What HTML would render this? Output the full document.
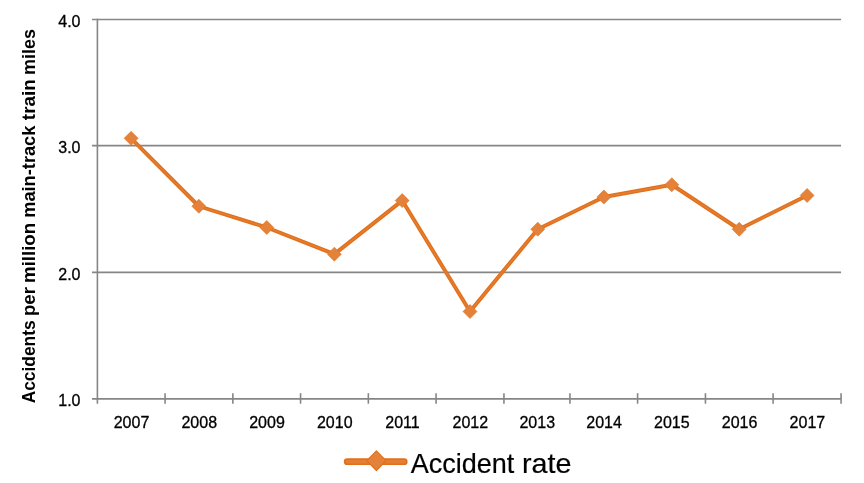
<!DOCTYPE html>
<html><head><meta charset="utf-8"><style>
html,body{margin:0;padding:0;background:#fff;}
body{width:864px;height:483px;overflow:hidden;}
svg{display:block;will-change:transform;}
text{font-family:"Liberation Sans",sans-serif;}
.t{font-size:16px;fill:#000;stroke:#000;stroke-width:0.3px;}
.ax{font-size:19.0px;font-weight:bold;fill:#000;}
.lg{font-size:27px;fill:#000;stroke:#000;stroke-width:0.2px;}
</style></head><body>
<svg width="864" height="483" viewBox="0 0 864 483">
<line x1="92" y1="19.45" x2="841.06" y2="19.45" stroke="#868686" stroke-width="1.6"/>
<line x1="92" y1="145.6" x2="841.06" y2="145.6" stroke="#868686" stroke-width="1.6"/>
<line x1="92" y1="272.35" x2="841.06" y2="272.35" stroke="#868686" stroke-width="1.6"/>
<line x1="92" y1="398.85" x2="841.06" y2="398.85" stroke="#868686" stroke-width="1.6"/>
<line x1="97.4" y1="18.65" x2="97.4" y2="403.7" stroke="#868686" stroke-width="1.6"/>
<line x1="165.06" y1="393.2" x2="165.06" y2="403.7" stroke="#868686" stroke-width="1.6"/>
<line x1="232.85" y1="393.2" x2="232.85" y2="403.7" stroke="#868686" stroke-width="1.6"/>
<line x1="300.56" y1="393.2" x2="300.56" y2="403.7" stroke="#868686" stroke-width="1.6"/>
<line x1="368.35" y1="393.2" x2="368.35" y2="403.7" stroke="#868686" stroke-width="1.6"/>
<line x1="436.06" y1="393.2" x2="436.06" y2="403.7" stroke="#868686" stroke-width="1.6"/>
<line x1="503.94" y1="393.2" x2="503.94" y2="403.7" stroke="#868686" stroke-width="1.6"/>
<line x1="569.95" y1="393.2" x2="569.95" y2="403.7" stroke="#868686" stroke-width="1.6"/>
<line x1="637.60" y1="393.2" x2="637.60" y2="403.7" stroke="#868686" stroke-width="1.6"/>
<line x1="705.44" y1="393.2" x2="705.44" y2="403.7" stroke="#868686" stroke-width="1.6"/>
<line x1="773.10" y1="393.2" x2="773.10" y2="403.7" stroke="#868686" stroke-width="1.6"/>
<line x1="841.06" y1="393.2" x2="841.06" y2="403.7" stroke="#868686" stroke-width="1.6"/>
<text x="80.5" y="26.5" text-anchor="end" class="t">4.0</text>
<text x="80.5" y="152.7" text-anchor="end" class="t">3.0</text>
<text x="80.5" y="279.5" text-anchor="end" class="t">2.0</text>
<text x="80.5" y="406.0" text-anchor="end" class="t">1.0</text>
<text x="131.52" y="427.8" text-anchor="middle" class="t">2007</text>
<text x="199.25" y="427.8" text-anchor="middle" class="t">2008</text>
<text x="267.00" y="427.8" text-anchor="middle" class="t">2009</text>
<text x="334.76" y="427.8" text-anchor="middle" class="t">2010</text>
<text x="402.51" y="427.8" text-anchor="middle" class="t">2011</text>
<text x="470.30" y="427.8" text-anchor="middle" class="t">2012</text>
<text x="537.25" y="427.8" text-anchor="middle" class="t">2013</text>
<text x="604.08" y="427.8" text-anchor="middle" class="t">2014</text>
<text x="671.82" y="427.8" text-anchor="middle" class="t">2015</text>
<text x="739.57" y="427.8" text-anchor="middle" class="t">2016</text>
<text x="807.38" y="427.8" text-anchor="middle" class="t">2017</text>
<path d="M131.10,138.35 L198.85,206.25 L266.75,227.45 L334.35,254.15 L402.20,200.60 L470.00,311.50 L537.75,229.15 L603.90,197.00 L671.80,184.75 L739.20,229.25 L807.10,195.45" fill="none" stroke="#E2701A" stroke-width="3.9" stroke-linejoin="round" stroke-linecap="round"/>
<path d="M131.10,138.35 L198.85,206.25 L266.75,227.45 L334.35,254.15 L402.20,200.60 L470.00,311.50 L537.75,229.15 L603.90,197.00 L671.80,184.75 L739.20,229.25 L807.10,195.45" fill="none" stroke="#E47E32" stroke-width="1.3" stroke-linejoin="round" stroke-linecap="round"/>
<path d="M131.10,131.35 L138.10,138.35 L131.10,145.35 L124.10,138.35 Z" fill="#E4823A" stroke="#E2721C" stroke-width="0.6" stroke-linejoin="round"/>
<path d="M198.85,199.25 L205.85,206.25 L198.85,213.25 L191.85,206.25 Z" fill="#E4823A" stroke="#E2721C" stroke-width="0.6" stroke-linejoin="round"/>
<path d="M266.75,220.45 L273.75,227.45 L266.75,234.45 L259.75,227.45 Z" fill="#E4823A" stroke="#E2721C" stroke-width="0.6" stroke-linejoin="round"/>
<path d="M334.35,247.15 L341.35,254.15 L334.35,261.15 L327.35,254.15 Z" fill="#E4823A" stroke="#E2721C" stroke-width="0.6" stroke-linejoin="round"/>
<path d="M402.20,193.60 L409.20,200.60 L402.20,207.60 L395.20,200.60 Z" fill="#E4823A" stroke="#E2721C" stroke-width="0.6" stroke-linejoin="round"/>
<path d="M470.00,304.50 L477.00,311.50 L470.00,318.50 L463.00,311.50 Z" fill="#E4823A" stroke="#E2721C" stroke-width="0.6" stroke-linejoin="round"/>
<path d="M537.75,222.15 L544.75,229.15 L537.75,236.15 L530.75,229.15 Z" fill="#E4823A" stroke="#E2721C" stroke-width="0.6" stroke-linejoin="round"/>
<path d="M603.90,190.00 L610.90,197.00 L603.90,204.00 L596.90,197.00 Z" fill="#E4823A" stroke="#E2721C" stroke-width="0.6" stroke-linejoin="round"/>
<path d="M671.80,177.75 L678.80,184.75 L671.80,191.75 L664.80,184.75 Z" fill="#E4823A" stroke="#E2721C" stroke-width="0.6" stroke-linejoin="round"/>
<path d="M739.20,222.25 L746.20,229.25 L739.20,236.25 L732.20,229.25 Z" fill="#E4823A" stroke="#E2721C" stroke-width="0.6" stroke-linejoin="round"/>
<path d="M807.10,188.45 L814.10,195.45 L807.10,202.45 L800.10,195.45 Z" fill="#E4823A" stroke="#E2721C" stroke-width="0.6" stroke-linejoin="round"/>
<g class="ax" transform="translate(34.5,403.0) rotate(-90)"><text transform="translate(-0.33,0) scale(0.9145,1)" x="0" y="0">Accidents</text><text transform="translate(86.98,0) scale(0.9776,1)" x="0" y="0">per</text><text transform="translate(120.07,0) scale(0.9815,1)" x="0" y="0">million</text><text transform="translate(185.20,0) scale(0.9604,1)" x="0" y="0">main-track</text><text transform="translate(282.87,0) scale(0.9909,1)" x="0" y="0">train</text><text transform="translate(328.12,0) scale(0.9430,1)" x="0" y="0">miles</text></g>
<line x1="347.2" y1="461.7" x2="404.2" y2="461.7" stroke="#E2701A" stroke-width="6.8" stroke-linecap="round"/>
<line x1="347.2" y1="461.7" x2="404.2" y2="461.7" stroke="#E47E32" stroke-width="3.4" stroke-linecap="round"/>
<path d="M376.4,450.9 L386.0,460.7 L376.4,470.5 L366.79999999999995,460.7 Z" fill="#E4823A" stroke="#E2701A" stroke-width="1.2" stroke-linejoin="round"/>
<text class="lg" transform="translate(410.65,473.3) scale(1.0019,1)" x="0" y="0">Accident</text>
<text class="lg" transform="translate(521.99,473.3) scale(1.0636,1)" x="0" y="0">rate</text>
</svg>
</body></html>
